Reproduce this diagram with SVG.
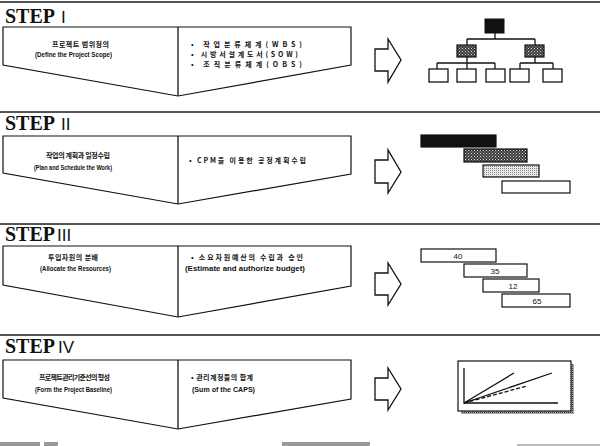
<svg xmlns="http://www.w3.org/2000/svg" width="600" height="446" viewBox="0 0 600 446">
<defs>
<pattern id="hatch" width="3" height="3" patternUnits="userSpaceOnUse">
<rect width="3" height="3" fill="#3a3a3a"/>
<rect width="1" height="1" fill="#ddd"/>
<rect x="1.5" y="1.5" width="1" height="1" fill="#bbb"/>
</pattern>
<pattern id="dots" width="2" height="2" patternUnits="userSpaceOnUse">
<rect width="2" height="2" fill="#e8e8e8"/>
<rect width="1" height="1" fill="#888"/>
</pattern>
<pattern id="shadow" width="2" height="2" patternUnits="userSpaceOnUse">
<rect width="2" height="2" fill="#aaa"/>
<rect width="1" height="1" fill="#333"/>
</pattern>
</defs>
<style>
.rule{stroke:#1a1a1a;stroke-width:1.6}
.panel{fill:#fff;stroke:#111;stroke-width:1.2;stroke-linejoin:miter}
.ln{stroke:#111;stroke-width:1.3;fill:none}
.step{font-family:"Liberation Serif",serif;font-weight:bold;font-size:20px;fill:#111}
.num{font-family:"Liberation Sans",sans-serif;font-size:17px;fill:#111}
.ko{font-family:"Noto Sans CJK KR",sans-serif;font-weight:bold;font-size:7px;fill:#111}
.en{font-family:"Liberation Sans",sans-serif;font-weight:bold;font-size:6.6px;fill:#111}
.arrow{fill:#fff;stroke:#111;stroke-width:1.3;stroke-linejoin:miter}
.bar{stroke:#111;stroke-width:1.2}
.val{font-family:"Liberation Sans",sans-serif;font-size:8px;fill:#111;text-anchor:middle}
</style>
<rect width="600" height="446" fill="#fff"/>

<!-- STEP I -->
<g id="step1">
<line class="rule" x1="0" y1="2" x2="600" y2="2"/>
<text class="step" x="5" y="23">STEP</text><text class="num" x="61" y="23">I</text>
<polygon class="panel" points="3,27 351,27 351,65 178,96 3,65"/>
<line class="ln" x1="178" y1="27" x2="178" y2="96"/>
<text class="ko" x="52" y="47" textLength="57" lengthAdjust="spacing">프로젝트 범위정의</text>
<text class="en" x="35" y="56.5" textLength="77" lengthAdjust="spacingAndGlyphs">(Define the Project Scope)</text>
<text class="ko" x="191" y="47" textLength="111" lengthAdjust="spacing">• 작업분류체계(WBS)</text>
<text class="ko" x="191" y="57" textLength="107" lengthAdjust="spacing">• 시방서설계도서(SOW)</text>
<text class="ko" x="191" y="67" textLength="111" lengthAdjust="spacing">• 조직분류체계(OBS)</text>
</g>
<g id="wbs-chart">
<rect x="485" y="19" width="19" height="14" fill="#111" stroke="#111"/>
<path class="ln" d="M495,33V39M467,39H535M467,39V45M535,39V45"/>
<rect x="457" y="45" width="19" height="12" fill="url(#hatch)" stroke="#111" stroke-width="1.2"/>
<rect x="525" y="45" width="19" height="12" fill="url(#hatch)" stroke="#111" stroke-width="1.2"/>
<path class="ln" d="M467,57V63M437,63H495M437,63V69M467,63V69M495,63V69M535,57V63M520,63H553M520,63V69M553,63V69"/>
<g fill="#fff" stroke="#111" stroke-width="1.3">
<rect x="429" y="69" width="19" height="13"/>
<rect x="457" y="69" width="19" height="13"/>
<rect x="486" y="69" width="19" height="13"/>
<rect x="510" y="69" width="19" height="13"/>
<rect x="543" y="69" width="19" height="13"/>
</g>
</g>

<!-- STEP II -->
<g id="step2">
<line class="rule" x1="0" y1="112" x2="600" y2="112"/>
<text class="step" x="5" y="130">STEP</text><text class="num" x="61" y="130">II</text>
<polygon class="panel" points="3,136 351,136 351,174 178,204 3,173"/>
<line class="ln" x1="178" y1="136" x2="178" y2="204"/>
<text class="ko" x="46" y="158" textLength="64" lengthAdjust="spacing">작업의 계획과 일정수립</text>
<text class="en" x="34" y="169.5" textLength="78" lengthAdjust="spacingAndGlyphs">(Plan and Schedule the Work)</text>
<text class="ko" x="189" y="163" textLength="117" lengthAdjust="spacing">• CPM을 이용한 공정계획수립</text>
</g>
<g id="gantt">
<rect class="bar" x="421" y="135" width="75" height="12" fill="#111"/>
<rect class="bar" x="464" y="149" width="63" height="13" fill="url(#hatch)"/>
<rect class="bar" x="483" y="165" width="56" height="12" fill="url(#dots)"/>
<rect class="bar" x="502" y="181" width="68" height="12" fill="#fff"/>
</g>

<!-- STEP III -->
<g id="step3">
<line class="rule" x1="0" y1="224" x2="600" y2="224"/>
<text class="step" x="5" y="241">STEP</text><text class="num" x="57" y="241">III</text>
<polygon class="panel" points="3,246 351,246 351,286 178,317 3,285"/>
<line class="ln" x1="178" y1="246" x2="178" y2="317"/>
<text class="ko" x="48" y="260" textLength="50" lengthAdjust="spacing">투입자원의 분배</text>
<text class="en" x="40" y="270.5" textLength="71" lengthAdjust="spacingAndGlyphs">(Allocate the Resources)</text>
<text class="ko" x="191" y="260" textLength="112" lengthAdjust="spacing">• 소요자원예산의 수립과 승인</text>
<text class="en" x="185" y="270.5" textLength="120" lengthAdjust="spacingAndGlyphs">(Estimate and authorize budget)</text>
</g>
<g id="budget-bars">
<rect class="bar" x="421" y="249" width="75" height="13" fill="#fff"/>
<text class="val" x="458" y="258.5">40</text>
<rect class="bar" x="464" y="264" width="63" height="13" fill="#fff"/>
<text class="val" x="495" y="273.5">35</text>
<rect class="bar" x="483" y="279" width="56" height="13" fill="#fff"/>
<text class="val" x="513" y="288.5">12</text>
<rect class="bar" x="502" y="294" width="68" height="13" fill="#fff"/>
<text class="val" x="537" y="303.5">65</text>
</g>

<!-- STEP IV -->
<g id="step4">
<line class="rule" x1="0" y1="335" x2="600" y2="335"/>
<text class="step" x="5" y="353">STEP</text><text class="num" x="58" y="353">IV</text>
<polygon class="panel" points="3,360 351,360 351,399 178,429 3,398"/>
<line class="ln" x1="178" y1="360" x2="178" y2="429"/>
<text class="ko" x="39" y="380" textLength="71" lengthAdjust="spacing">프로젝트관리기준선의 형성</text>
<text class="en" x="35" y="391.5" textLength="77" lengthAdjust="spacingAndGlyphs">(Form the Project Baseline)</text>
<text class="ko" x="191" y="380" textLength="62" lengthAdjust="spacing">• 관리계정들의 합계</text>
<text class="en" x="192" y="391.5" textLength="63" lengthAdjust="spacingAndGlyphs">(Sum of the CAPS)</text>
</g>
<g id="baseline-chart">
<rect x="461" y="364" width="113" height="50" fill="url(#shadow)"/>
<rect x="458" y="361" width="113" height="50" fill="#fff" stroke="#111" stroke-width="1.2"/>
<path class="ln" d="M464,368V403H558"/>
<path class="ln" d="M464,403L514,373M464,403L552,373"/>
<path class="ln" d="M464,403L527,386" stroke-dasharray="4,2"/>
</g>

<!-- block arrows -->
<g id="connectors">
<polygon class="arrow" points="375,49 388,49 388,39 401,60 388,82 388,71 375,71"/>
<polygon class="arrow" points="375,160 388,160 388,150 401,172 388,193 388,183 375,183"/>
<polygon class="arrow" points="375,273 388,273 388,263 401,284 388,305 388,295 375,295"/>
<polygon class="arrow" points="375,378 388,378 388,368 401,389 388,410 388,400 375,400"/>
</g>

<!-- cut-off marks at bottom edge -->
<g fill="#999">
<rect x="0" y="442" width="40" height="4"/>
<rect x="44" y="442" width="14" height="4"/>
<rect x="282" y="442" width="88" height="4"/>
</g>
<line x1="517" y1="445" x2="600" y2="445" stroke="#777" stroke-width="1"/>
</svg>
